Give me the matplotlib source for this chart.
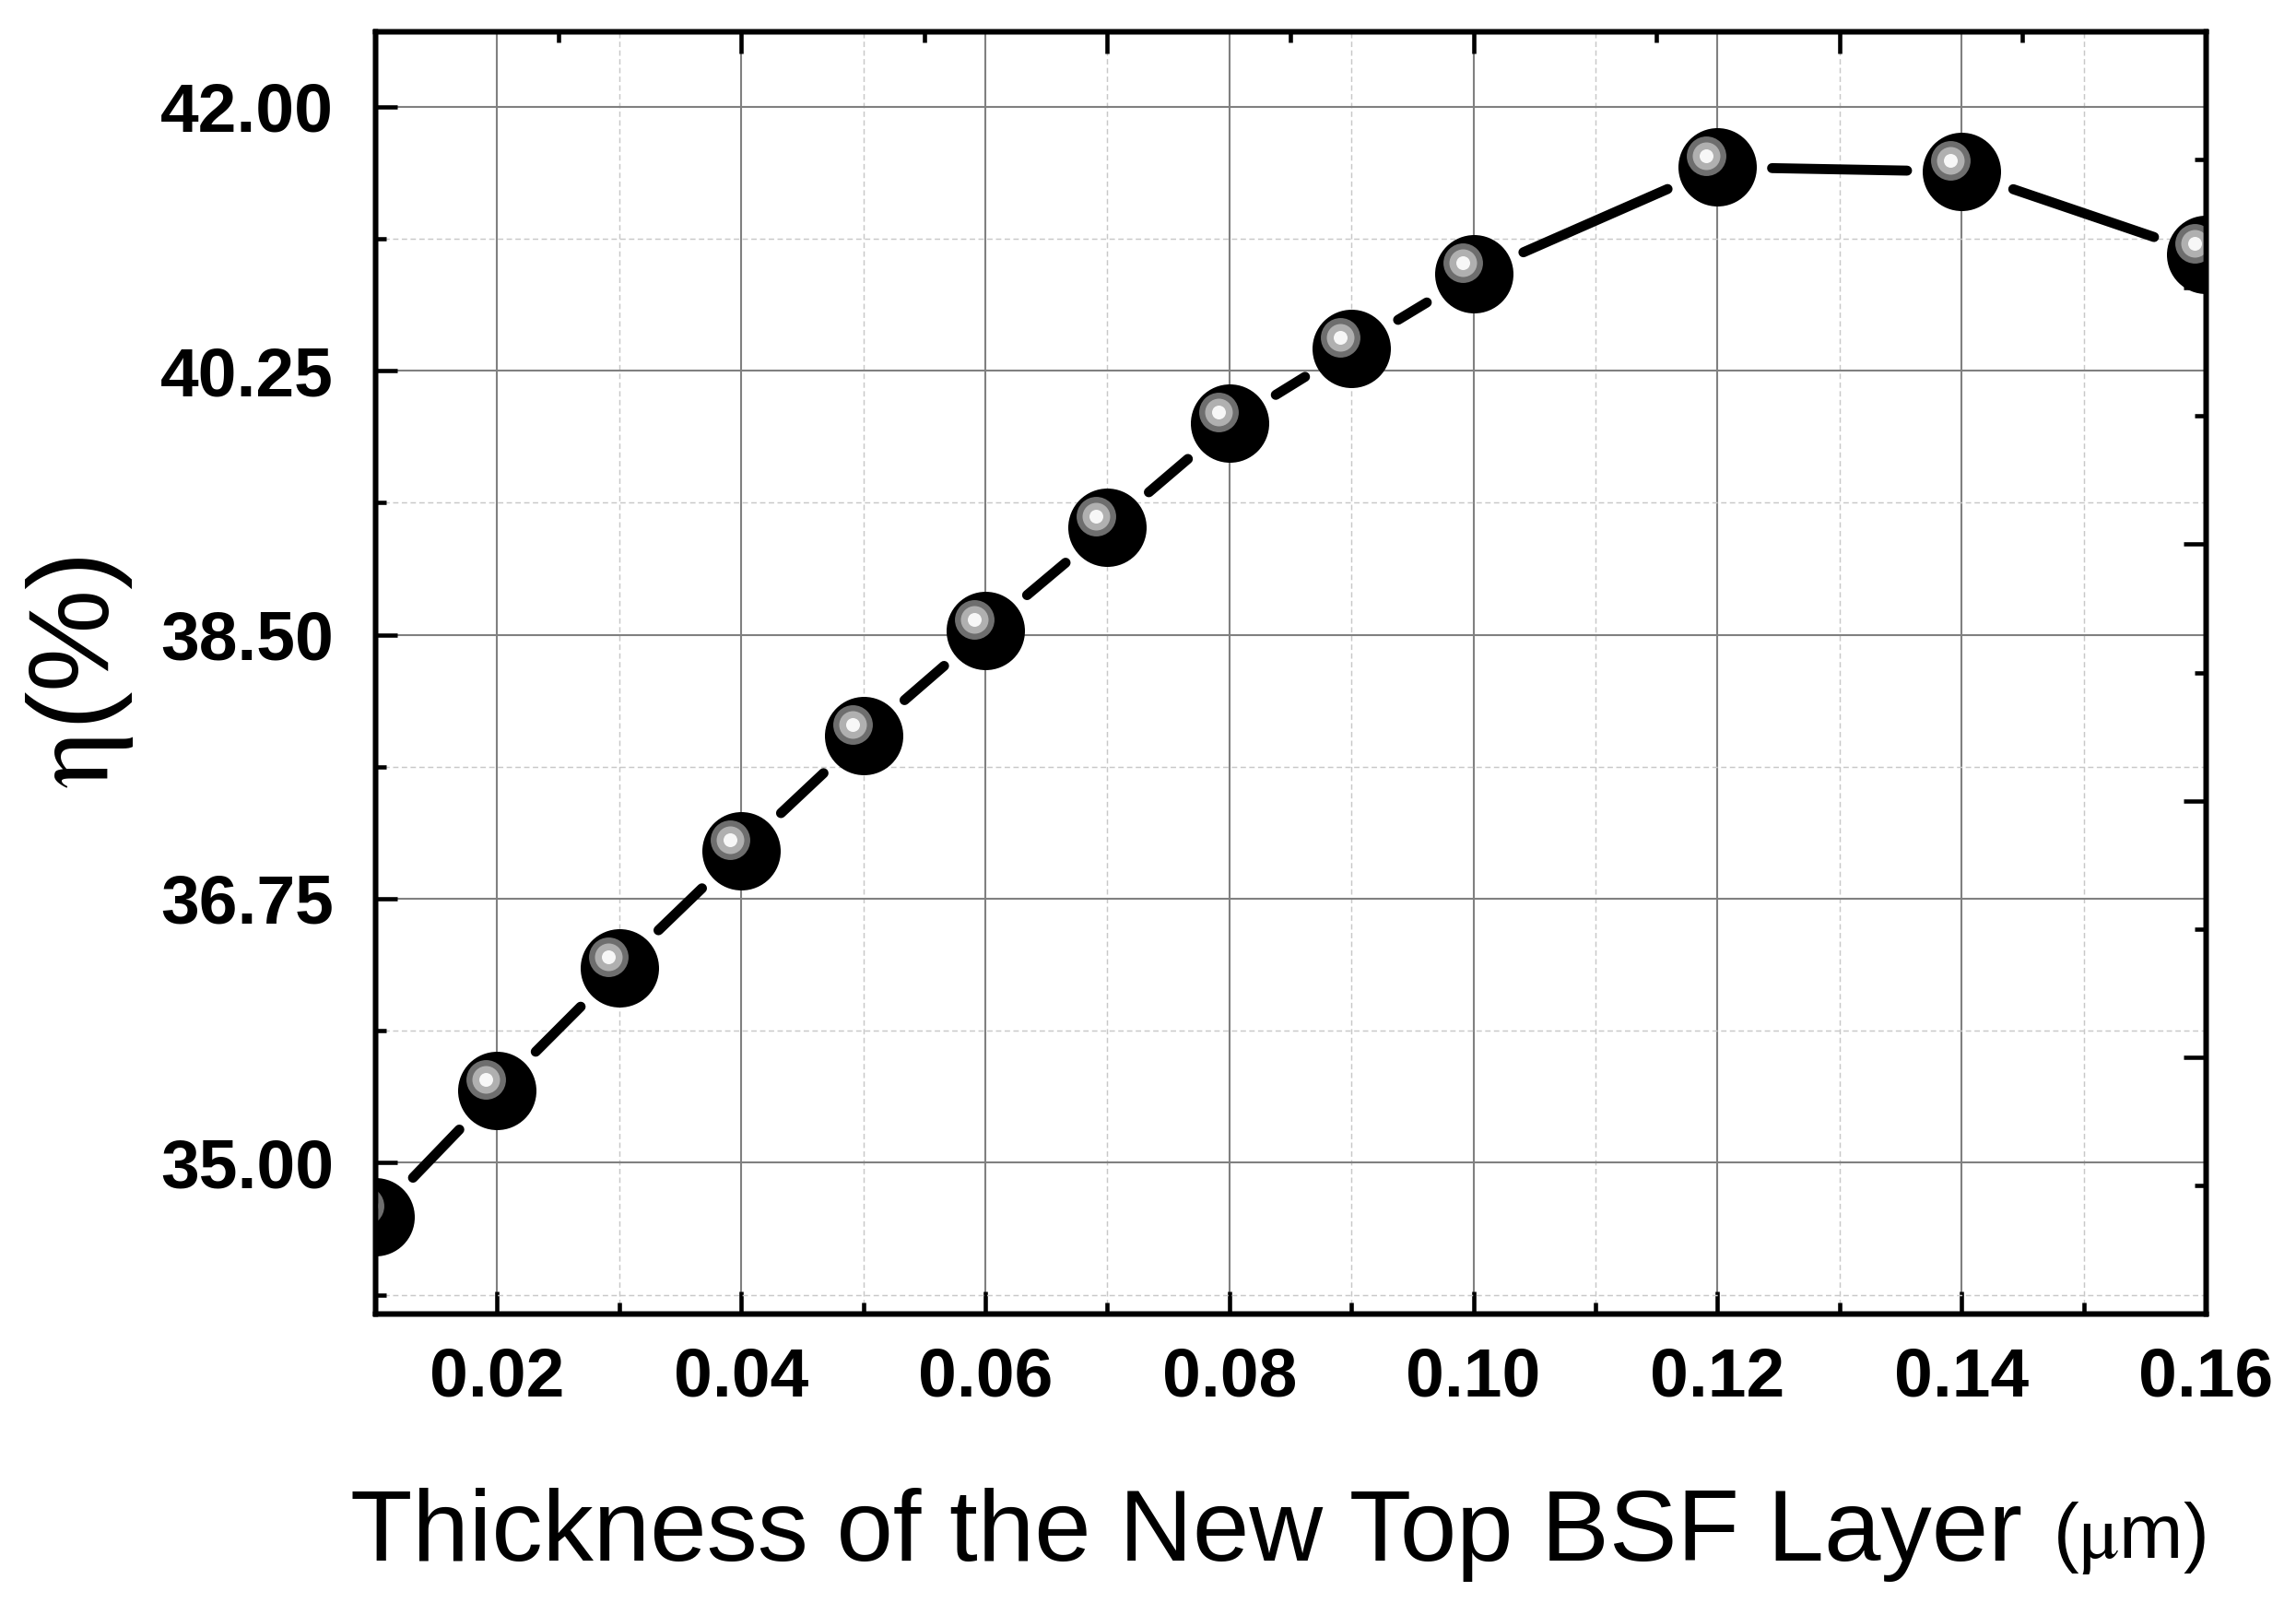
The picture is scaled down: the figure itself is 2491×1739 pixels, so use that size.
import matplotlib
matplotlib.use("Agg")
import matplotlib.pyplot as plt
import matplotlib.transforms as mtransforms
import numpy as np

plt.rcParams['font.family'] = ['Liberation Sans', 'DejaVu Sans']
plt.rcParams['mathtext.fontset'] = 'stix'

# data
thickness = [0.01, 0.02, 0.03, 0.04, 0.05, 0.06, 0.07, 0.08, 0.09, 0.10, 0.12, 0.14, 0.16]
eff = [34.64, 35.48, 36.29, 37.07, 37.83, 38.53, 39.21, 39.90, 40.40, 40.89, 41.60, 41.57, 41.02]

x_major = [0.02, 0.04, 0.06, 0.08, 0.10, 0.12, 0.14, 0.16]
x_minor = [0.01, 0.03, 0.05, 0.07, 0.09, 0.11, 0.13, 0.15]
y_major = [35.00, 36.75, 38.50, 40.25, 42.00]
y_minor = [34.125, 35.875, 37.625, 39.375, 41.125]
top_major = [0.01, 0.04, 0.07, 0.10, 0.13, 0.16]
top_minor = [0.025, 0.055, 0.085, 0.115, 0.145]
right_major = [35.7, 37.4, 39.1, 40.8, 42.5]
right_minor = [34.85, 36.55, 38.25, 39.95, 41.65]

fig = plt.figure(figsize=(2491 / 300, 1739 / 300), dpi=300)
ax = fig.add_axes([407 / 2491, 1 - 1425 / 1739, (2393 - 407) / 2491, (1425 - 34) / 1739])

ax.set_xlim(0.01, 0.16)
ax.set_ylim(34.0, 42.5)

ax.set_xticks(x_major)
ax.set_xticks(x_minor, minor=True)
ax.set_yticks(y_major)
ax.set_yticks(y_minor, minor=True)
ax.set_xticklabels(["%.2f" % v for v in x_major])
ax.set_yticklabels(["%.2f" % v for v in y_major])

ax.set_axisbelow(True)
ax.grid(which='major', color='#808080', lw=0.5, ls='-')
ax.grid(which='minor', color='#c8c8c8', lw=0.35, ls=(0, (4, 2.5)))

ax.tick_params(which='both', direction='in', width=1.1, color='black')
ax.tick_params(which='major', length=5.8)
ax.tick_params(which='minor', length=2.9)
ax.tick_params(axis='x', which='major', pad=8.6, labelsize=18)
ax.tick_params(axis='y', which='major', pad=10.8, labelsize=18)
for lab in ax.get_xticklabels() + ax.get_yticklabels():
    lab.set_fontweight('bold')
for sp in ax.spines.values():
    sp.set_linewidth(1.3)

# top and right axes carry their own ticks without labels
axt = ax.twiny()
axt.set_xlim(ax.get_xlim())
axt.set_xticks(top_major)
axt.set_xticks(top_minor, minor=True)
axt.tick_params(which='both', direction='in', width=1.1, labeltop=False)
axt.tick_params(which='major', length=5.8)
axt.tick_params(which='minor', length=2.9)
axr = ax.twinx()
axr.set_ylim(ax.get_ylim())
axr.set_yticks(right_major)
axr.set_yticks(right_minor, minor=True)
axr.tick_params(which='both', direction='in', width=1.1, labelright=False)
axr.tick_params(which='major', length=5.8)
axr.tick_params(which='minor', length=2.9)
for a in (axt, axr):
    for sp in a.spines.values():
        sp.set_linewidth(1.3)

# connecting line, broken around each symbol
for i in range(len(thickness) - 1):
    ax.annotate('', xy=(thickness[i + 1], eff[i + 1]), xytext=(thickness[i], eff[i]),
                arrowprops=dict(arrowstyle='-', lw=2.6, color='black',
                                shrinkA=14.2, shrinkB=14.2),
                zorder=2)

# shaded sphere markers
ax.plot(thickness, eff, ls='none', marker='o', ms=20.4, mfc='black', mec='black',
        mew=0, zorder=4)
hl = mtransforms.offset_copy(ax.transData, fig=fig, x=-12, y=12, units='dots')
ax.plot(thickness, eff, ls='none', marker='o', ms=10.3, mfc='#6e6e6e', mew=0,
        transform=hl, zorder=5)
ax.plot(thickness, eff, ls='none', marker='o', ms=7.2, mfc='#b0b0b0', mew=0,
        transform=hl, zorder=6)
ax.plot(thickness, eff, ls='none', marker='o', ms=3.6, mfc='#f7f7f7', mew=0,
        transform=hl, zorder=7)

# axis titles
xl = ax.text(0.443, -0.1927, "Thickness of the New Top BSF Layer", transform=ax.transAxes,
             ha='center', va='baseline', fontsize=26.5)
ax.annotate("($\\mathrm{\\mu}$m)", xy=(1, 0), xycoords=xl, xytext=(8, 1.5),
            textcoords='offset points', ha='left', va='bottom', fontsize=20)
ax.text(-0.1455, 0.5, "$\\mathrm{\\eta}$(%)", transform=ax.transAxes, rotation=90,
        rotation_mode='anchor', ha='center', va='baseline', fontsize=30)

fig.savefig("out.png", dpi=300)
